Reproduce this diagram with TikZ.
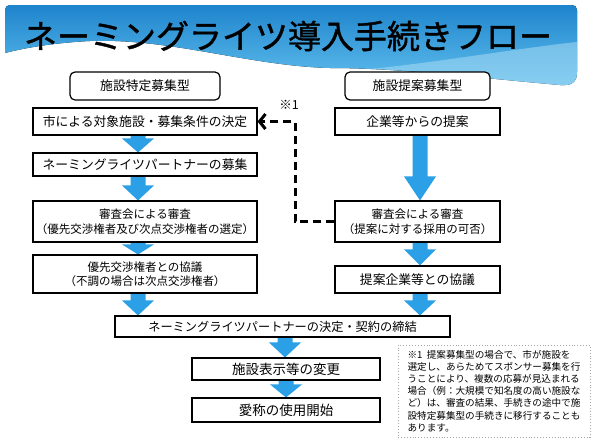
\documentclass[tikz,border=0pt]{standalone}
\usepackage{fontspec}
\setmainfont{Noto Sans CJK JP}
\newfontfamily\titlefont[FakeBold=1.2]{Noto Sans CJK JP}
\usetikzlibrary{arrows.meta,calc}
\definecolor{hdrtop}{HTML}{1E84CC}
\definecolor{hdrbot}{HTML}{62C0EE}
\definecolor{hdrlight}{HTML}{A6DAF4}
\definecolor{arrowblue}{HTML}{2BA0E6}
\pgfdeclarelayer{bg}
\pgfsetlayers{bg,main}
\newcommand\blockarrow[4]{%
  \fill[arrowblue] let \p1=($(#2.south)+(#1,0)$), \p2=(#3.north) in
    (\x1-7.5pt,\y1) -- (\x1+7.5pt,\y1) -- (\x1+7.5pt,\y2+#4) -- (\x1+16pt,\y2+#4)
    -- (\x1,\y2) -- (\x1-16pt,\y2+#4) -- (\x1-7.5pt,\y2+#4) -- cycle;}
\begin{document}
\begin{tikzpicture}[x=1pt,y=-1pt,
  box/.style={draw=black,line width=1.1pt,fill=white,inner sep=0pt,align=center,font=\fontsize{12.8}{15}\selectfont},
  hdr/.style={box,rounded corners=5pt,line width=1.2pt},
  twoline/.style={font=\fontsize{11.5}{14.5}\selectfont},
  bigtext/.style={font=\fontsize{13.5}{15}\selectfont},
  dashconn/.style={draw=black,line width=3pt,dash pattern=on 8pt off 5pt,line join=miter,-{Straight Barb[length=6pt,width=15pt]}},
  note/.style={draw=gray!70,dotted,line width=0.9pt,inner sep=0pt,align=left,font=\fontsize{9.6}{12.2}\selectfont}]
\useasboundingbox (0,0) rectangle (600,445);
\begin{pgfonlayer}{bg}
\fill[white] (0,0) rectangle (600,445);
% header band
\fill[top color=hdrtop,bottom color=hdrbot]
  (10,5) -- (572,5) .. controls (575,5) and (577,7) .. (577,10) -- (577,72)
  .. controls (577,82) and (572,86) .. (560,85)
  .. controls (480,78) and (400,68) .. (330,68)
  .. controls (250,66) and (170,38) .. (90,41)
  .. controls (50,43) and (20,49) .. (5,53) -- (5,10)
  .. controls (5,7) and (7,5) .. (10,5) -- cycle;
\fill[hdrlight,opacity=0.55]
  (577,42) -- (577,72) .. controls (577,82) and (572,86) .. (560,85)
  .. controls (480,78) and (420,70) .. (370,69)
  .. controls (440,62) and (520,48) .. (577,42) -- cycle;
\end{pgfonlayer}
\node[font=\fontsize{33}{33}\selectfont\titlefont] (title) at (288,36) {ネーミングライツ導入手続きフロー};
% headers
\node[hdr,minimum width=150pt,minimum height=28pt] (HL) at (145,86) {施設特定募集型};
\node[hdr,minimum width=145pt,minimum height=28pt] (HR) at (417.5,86) {施設提案募集型};
% left column
\node[box,minimum width=224pt,minimum height=27pt] (L1) at (145,121.5) {市による対象施設・募集条件の決定};
\node[box,minimum width=224pt,minimum height=23pt] (L2) at (145,164.5) {ネーミングライツパートナーの募集};
\node[box,twoline,minimum width=224pt,minimum height=41pt] (L3) at (145,221.5) {審査会による審査\\（優先交渉権者及び次点交渉権者の選定）};
\node[box,twoline,minimum width=224pt,minimum height=38pt] (L4) at (145,274) {優先交渉権者との協議\\（不調の場合は次点交渉権者）};
% right column
\node[box,minimum width=165pt,minimum height=27pt] (R1) at (417.5,121.5) {企業等からの提案};
\node[box,twoline,minimum width=165pt,minimum height=41pt] (R2) at (417.5,221.5) {審査会による審査\\（提案に対する採用の可否）};
\node[box,minimum width=165pt,minimum height=27pt] (R3) at (417.5,279.5) {提案企業等との協議};
% bottom
\node[box,font=\fontsize{12.2}{14}\selectfont,minimum width=335pt,minimum height=21pt] (D) at (282.5,326.5) {ネーミングライツパートナーの決定・契約の締結};
\node[box,bigtext,minimum width=188pt,minimum height=22pt] (S) at (286,369) {施設表示等の変更};
\node[box,bigtext,minimum width=188pt,minimum height=24pt] (A) at (286,410) {愛称の使用開始};
% note
\node[note,minimum width=192pt,minimum height=92pt] (note) at (494,391) {※1\ \ 提案募集型の場合で、市が施設を\\選定し、あらためてスポンサー募集を行\\うことにより、複数の応募が見込まれる\\場合（例：大規模で知名度の高い施設な\\ど）は、審査の結果、手続きの途中で施\\設特定募集型の手続きに移行することも\\あります。};
\node[font=\fontsize{12.5}{12.5}\selectfont] (ref) at (289,105) {※1};
% dashed connector
\coordinate (dc) at (295,0);
\draw[dashconn] (R2.west) -- (R2.west -| dc) -- (L1.east -| dc) -- (L1.east);
% block arrows
\begin{pgfonlayer}{bg}
\blockarrow{-7}{L1}{L2}{14pt}
\blockarrow{-7}{L2}{L3}{15pt}
\blockarrow{-7}{L3}{L4}{10pt}
\blockarrow{-7}{L4}{D}{15pt}
\blockarrow{2.5}{R1}{R2}{24pt}
\blockarrow{2.5}{R2}{R3}{16pt}
\blockarrow{2.5}{R3}{D}{15pt}
\blockarrow{2.5}{D}{S}{15pt}
\blockarrow{0}{S}{A}{13pt}
\end{pgfonlayer}
\end{tikzpicture}
\end{document}
